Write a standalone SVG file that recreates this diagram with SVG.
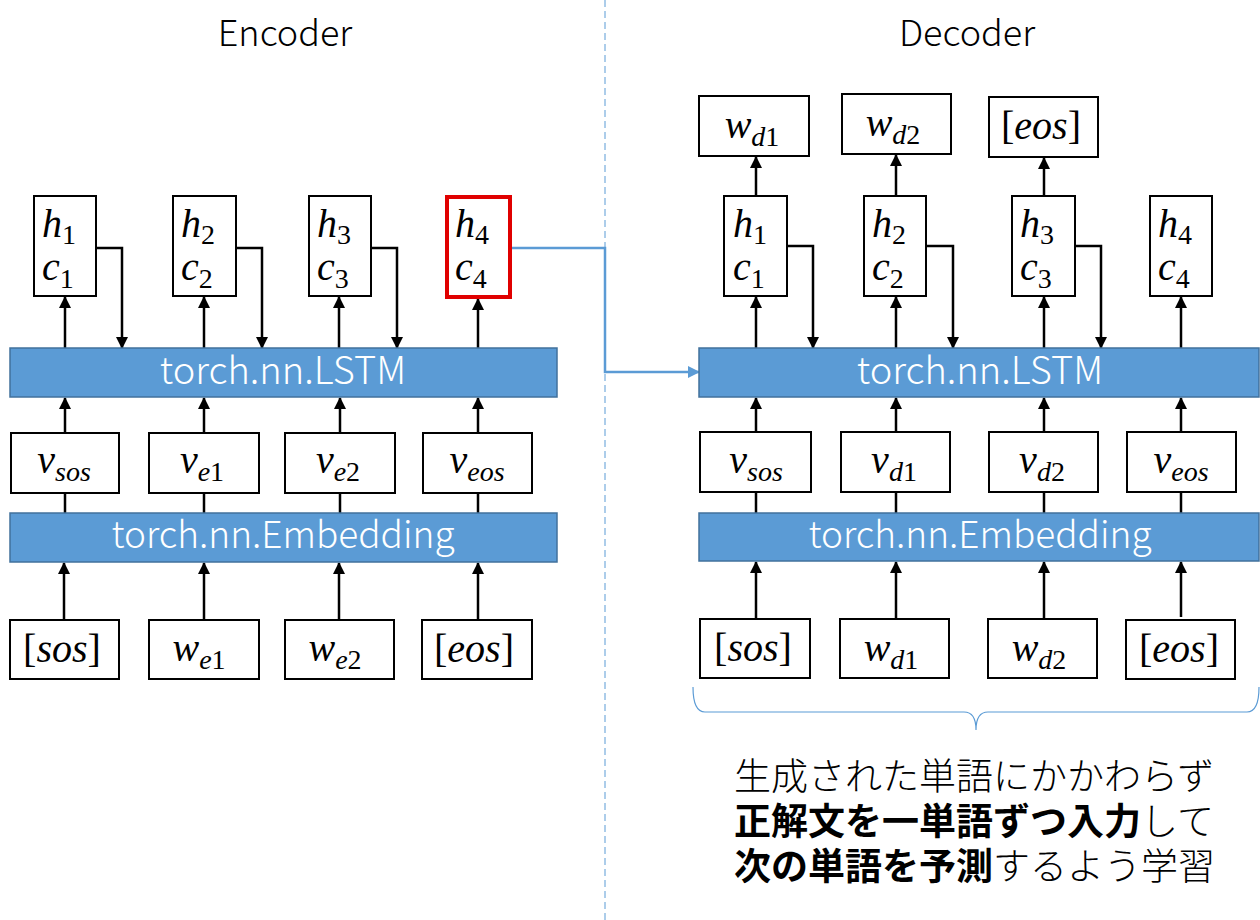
<svg xmlns="http://www.w3.org/2000/svg" width="1260" height="920" viewBox="0 0 1260 920">
<style>
.box{fill:#fff;stroke:#000;stroke-width:2}
.red{fill:#fff;stroke:#e00000;stroke-width:4}
.bar{fill:#5b9bd5;stroke:#41719c;stroke-width:1.5}
.bartxt{font-family:"Noto Sans CJK JP","Noto Sans",sans-serif;font-weight:300;fill:#fff;text-anchor:middle}
.title{font-family:"Noto Sans CJK JP","Noto Sans",sans-serif;font-weight:300;font-size:36px;fill:#000;text-anchor:middle}
.m{font-family:"Liberation Serif","DejaVu Serif",serif;font-style:italic;font-size:40px;fill:#000}
.mc{text-anchor:middle}
.s{font-size:28px}
.n{font-style:normal}
.ln{stroke:#000;stroke-width:2.5;fill:none}
.arr{marker-end:url(#ah)}
.blue{stroke:#5b9bd5;stroke-width:2.5;fill:none}
.jp{font-family:"Noto Sans CJK JP",sans-serif;font-size:37px;fill:#000}
.b{font-weight:700}
.l{font-weight:300}
</style>
<defs>
<marker id="ah" markerUnits="userSpaceOnUse" markerWidth="12" markerHeight="12" refX="11" refY="6" orient="auto">
<path d="M0,0 L12,6 L0,12 z" fill="#000"/>
</marker>
<marker id="bh" markerUnits="userSpaceOnUse" markerWidth="12" markerHeight="12" refX="11" refY="6" orient="auto">
<path d="M0,0 L12,6 L0,12 z" fill="#5b9bd5"/>
</marker>
</defs>
<rect width="1260" height="920" fill="#fff"/>

<line x1="605" y1="0" x2="605" y2="920" stroke="#5b9bd5" stroke-width="1" stroke-dasharray="7,4"/>

<text class="title" x="285" y="46">Encoder</text>
<text class="title" x="967" y="46">Decoder</text>

<g id="connectors">
<!-- encoder -->
<path class="ln arr" d="M65,348 V297"/>
<path class="ln arr" d="M204,348 V297"/>
<path class="ln arr" d="M339,348 V297"/>
<path class="ln arr" d="M478,348 V299"/>
<path class="ln arr" d="M96,248 H122 V348"/>
<path class="ln arr" d="M236,248 H262 V348"/>
<path class="ln arr" d="M371,248 H397 V348"/>
<path class="ln arr" d="M65,433 V398"/>
<path class="ln arr" d="M204,433 V398"/>
<path class="ln arr" d="M340,433 V398"/>
<path class="ln arr" d="M478,433 V398"/>
<path class="ln" d="M65,513 V493 M204,513 V493 M340,513 V493 M478,513 V493"/>
<path class="ln arr" d="M64,620 V563"/>
<path class="ln arr" d="M204,620 V563"/>
<path class="ln arr" d="M339,620 V563"/>
<path class="ln arr" d="M478,620 V563"/>
<!-- decoder -->
<path class="ln arr" d="M756,348 V297"/>
<path class="ln arr" d="M896,348 V297"/>
<path class="ln arr" d="M1044,348 V297"/>
<path class="ln arr" d="M1181,348 V297"/>
<path class="ln arr" d="M787,246 H813 V348"/>
<path class="ln arr" d="M926,246 H953 V348"/>
<path class="ln arr" d="M1075,246 H1101 V348"/>
<path class="ln arr" d="M756,196 V157"/>
<path class="ln arr" d="M896,196 V155"/>
<path class="ln arr" d="M1044,196 V158"/>
<path class="ln arr" d="M756,432 V398"/>
<path class="ln arr" d="M896,432 V398"/>
<path class="ln arr" d="M1044,432 V398"/>
<path class="ln arr" d="M1181,432 V398"/>
<path class="ln" d="M756,513 V492 M896,513 V492 M1044,513 V492 M1181,513 V492"/>
<path class="ln arr" d="M756,619 V562"/>
<path class="ln arr" d="M896,619 V562"/>
<path class="ln arr" d="M1044,619 V562"/>
<path class="ln arr" d="M1181,617 V562"/>
<!-- encoder to decoder -->
<path class="blue" marker-end="url(#bh)" d="M511,248 H605 V372 H699"/>
<!-- brace -->
<path d="M693,687 Q693,712 705,712 H964 Q976,712 976,730 Q976,712 988,712 H1247 Q1259,712 1259,687" fill="none" stroke="#5b9bd5" stroke-width="1.2"/>
</g>

<!-- Encoder nodes -->
<g id="enc-lstm"><rect class="bar" x="10" y="348" width="547" height="49"/><text class="bartxt" x="283" y="384" font-size="38">torch.nn.LSTM</text></g>
<g id="enc-emb"><rect class="bar" x="10" y="513" width="547" height="49"/><text class="bartxt" x="283" y="548" font-size="37">torch.nn.Embedding</text></g>

<g id="enc-h1"><rect class="box" x="34" y="196" width="62" height="100"/><text class="m" x="42" y="237">h<tspan class="s n" dy="7">1</tspan></text><text class="m" x="42" y="280">c<tspan class="s n" dy="8">1</tspan></text></g>
<g id="enc-h2"><rect class="box" x="173" y="196" width="63" height="100"/><text class="m" x="181" y="237">h<tspan class="s n" dy="7">2</tspan></text><text class="m" x="181" y="280">c<tspan class="s n" dy="8">2</tspan></text></g>
<g id="enc-h3"><rect class="box" x="309" y="196" width="62" height="100"/><text class="m" x="317" y="237">h<tspan class="s n" dy="7">3</tspan></text><text class="m" x="317" y="280">c<tspan class="s n" dy="8">3</tspan></text></g>
<g id="enc-h4"><rect class="red" x="447" y="197" width="63" height="100"/><text class="m" x="455" y="237">h<tspan class="s n" dy="7">4</tspan></text><text class="m" x="455" y="280">c<tspan class="s n" dy="8">4</tspan></text></g>

<g id="enc-vsos"><rect class="box" x="11" y="433" width="108" height="60"/><text class="m mc" x="64" y="473">v<tspan class="s" dy="8">sos</tspan></text></g>
<g id="enc-ve1"><rect class="box" x="149" y="433" width="110" height="60"/><text class="m mc" x="202" y="473">v<tspan class="s" dy="8">e<tspan class="n">1</tspan></tspan></text></g>
<g id="enc-ve2"><rect class="box" x="285" y="433" width="110" height="60"/><text class="m mc" x="338" y="473">v<tspan class="s" dy="8">e<tspan class="n">2</tspan></tspan></text></g>
<g id="enc-veos"><rect class="box" x="423" y="433" width="109" height="60"/><text class="m mc" x="477" y="473">v<tspan class="s" dy="8">eos</tspan></text></g>

<g id="enc-sos"><rect class="box" x="10" y="620" width="109" height="59"/><text class="m mc" x="62" y="662"><tspan class="n">[</tspan>sos<tspan class="n">]</tspan></text></g>
<g id="enc-we1"><rect class="box" x="149" y="620" width="110" height="59"/><text class="m mc" x="199" y="661">w<tspan class="s" dy="8">e<tspan class="n">1</tspan></tspan></text></g>
<g id="enc-we2"><rect class="box" x="285" y="620" width="109" height="59"/><text class="m mc" x="335" y="661">w<tspan class="s" dy="8">e<tspan class="n">2</tspan></tspan></text></g>
<g id="enc-eos"><rect class="box" x="422" y="620" width="110" height="59"/><text class="m mc" x="474" y="662"><tspan class="n">[</tspan>eos<tspan class="n">]</tspan></text></g>

<!-- Decoder nodes -->
<g id="dec-lstm"><rect class="bar" x="699" y="348" width="560" height="49"/><text class="bartxt" x="980" y="384" font-size="38">torch.nn.LSTM</text></g>
<g id="dec-emb"><rect class="bar" x="699" y="513" width="560" height="48"/><text class="bartxt" x="980" y="548" font-size="37">torch.nn.Embedding</text></g>

<g id="dec-wd1-out"><rect class="box" x="699" y="96" width="110" height="60"/><text class="m mc" x="752" y="138">w<tspan class="s" dy="8">d<tspan class="n">1</tspan></tspan></text></g>
<g id="dec-wd2-out"><rect class="box" x="842" y="94" width="109" height="60"/><text class="m mc" x="893" y="136">w<tspan class="s" dy="8">d<tspan class="n">2</tspan></tspan></text></g>
<g id="dec-eos-out"><rect class="box" x="989" y="97" width="109" height="60"/><text class="m mc" x="1041" y="139"><tspan class="n">[</tspan>eos<tspan class="n">]</tspan></text></g>

<g id="dec-h1"><rect class="box" x="724" y="196" width="63" height="100"/><text class="m" x="733" y="237">h<tspan class="s n" dy="7">1</tspan></text><text class="m" x="733" y="280">c<tspan class="s n" dy="8">1</tspan></text></g>
<g id="dec-h2"><rect class="box" x="864" y="196" width="62" height="100"/><text class="m" x="872" y="237">h<tspan class="s n" dy="7">2</tspan></text><text class="m" x="872" y="280">c<tspan class="s n" dy="8">2</tspan></text></g>
<g id="dec-h3"><rect class="box" x="1012" y="196" width="63" height="100"/><text class="m" x="1020" y="237">h<tspan class="s n" dy="7">3</tspan></text><text class="m" x="1020" y="280">c<tspan class="s n" dy="8">3</tspan></text></g>
<g id="dec-h4"><rect class="box" x="1150" y="196" width="62" height="100"/><text class="m" x="1158" y="237">h<tspan class="s n" dy="7">4</tspan></text><text class="m" x="1158" y="280">c<tspan class="s n" dy="8">4</tspan></text></g>

<g id="dec-vsos"><rect class="box" x="700" y="432" width="111" height="60"/><text class="m mc" x="756" y="473">v<tspan class="s" dy="8">sos</tspan></text></g>
<g id="dec-vd1"><rect class="box" x="841" y="432" width="109" height="60"/><text class="m mc" x="894" y="473">v<tspan class="s" dy="8">d<tspan class="n">1</tspan></tspan></text></g>
<g id="dec-vd2"><rect class="box" x="989" y="432" width="109" height="60"/><text class="m mc" x="1042" y="473">v<tspan class="s" dy="8">d<tspan class="n">2</tspan></tspan></text></g>
<g id="dec-veos"><rect class="box" x="1127" y="432" width="109" height="60"/><text class="m mc" x="1181" y="473">v<tspan class="s" dy="8">eos</tspan></text></g>

<g id="dec-sos"><rect class="box" x="700" y="619" width="110" height="59"/><text class="m mc" x="753" y="661"><tspan class="n">[</tspan>sos<tspan class="n">]</tspan></text></g>
<g id="dec-wd1"><rect class="box" x="840" y="619" width="109" height="59"/><text class="m mc" x="891" y="661">w<tspan class="s" dy="8">d<tspan class="n">1</tspan></tspan></text></g>
<g id="dec-wd2"><rect class="box" x="988" y="619" width="109" height="59"/><text class="m mc" x="1039" y="661">w<tspan class="s" dy="8">d<tspan class="n">2</tspan></tspan></text></g>
<g id="dec-eos"><rect class="box" x="1126" y="620" width="109" height="59"/><text class="m mc" x="1179" y="662"><tspan class="n">[</tspan>eos<tspan class="n">]</tspan></text></g>

<g id="note">
<text class="jp l" x="734" y="790">生成された単語にかかわらず</text>
<text class="jp" x="734" y="835"><tspan class="b">正解文を一単語ずつ入力</tspan><tspan class="l">して</tspan></text>
<text class="jp" x="734" y="880"><tspan class="b">次の単語を予測</tspan><tspan class="l">するよう学習</tspan></text>
</g>
</svg>
